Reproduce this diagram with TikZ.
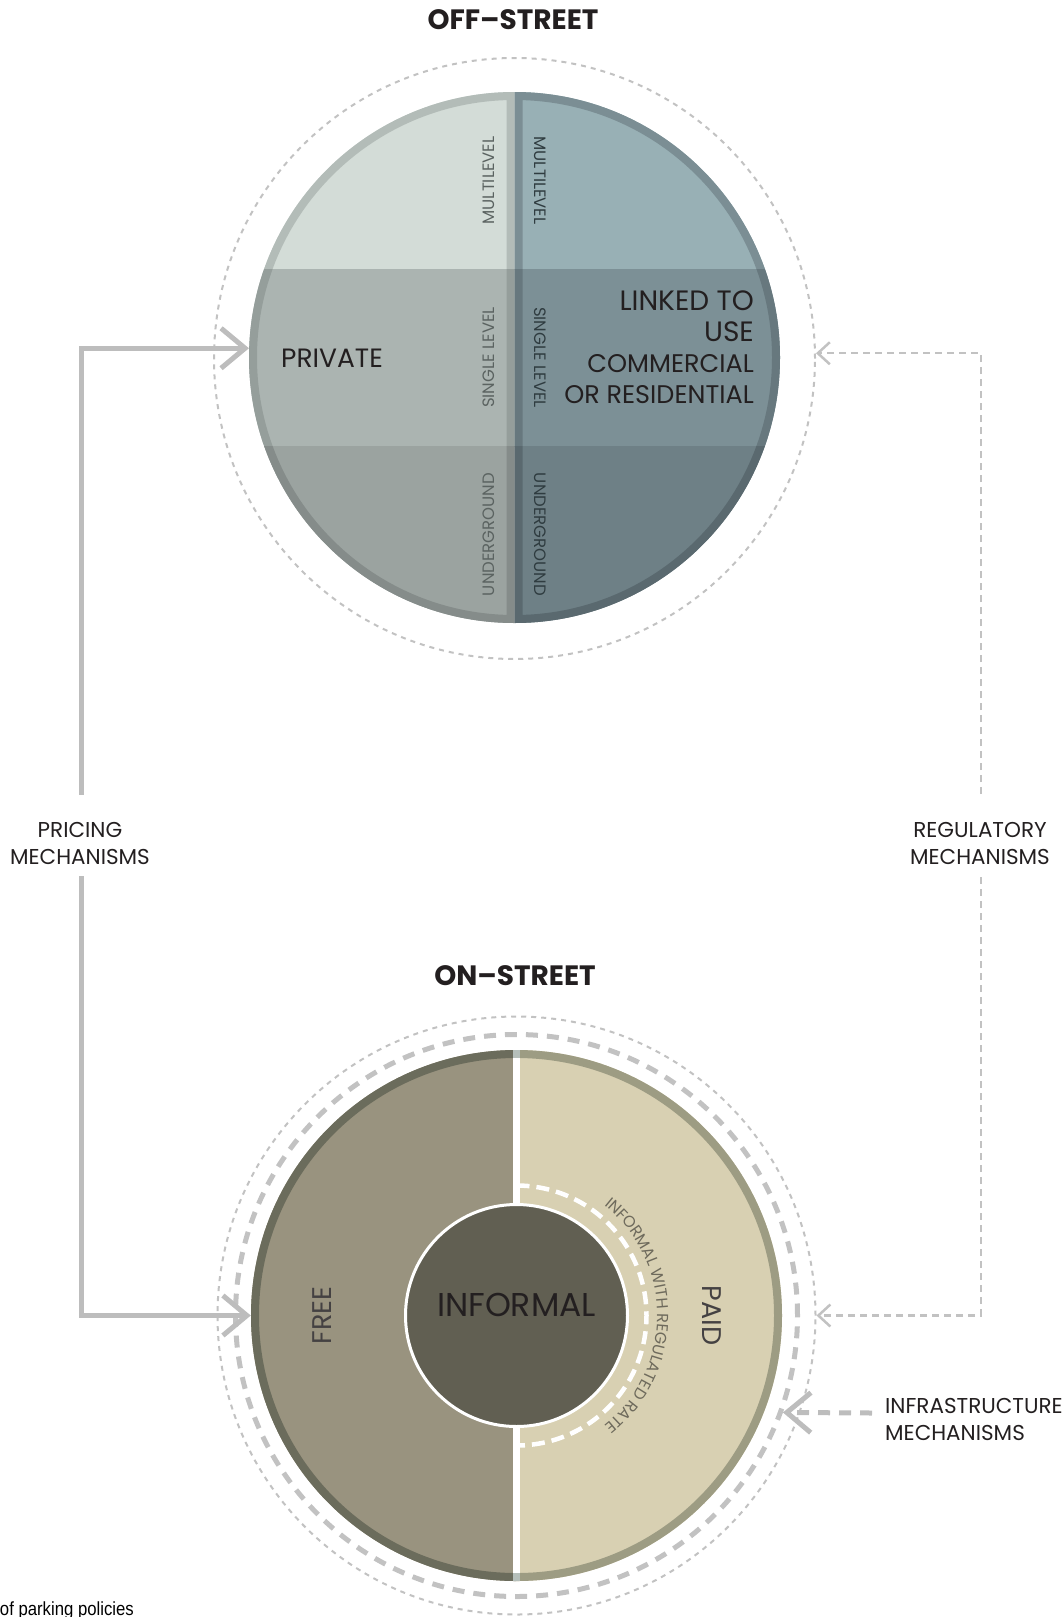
\documentclass[tikz,border=0pt]{standalone}
\usepackage{fontspec}
\setmainfont{Poppins}
\newfontfamily\capfont{Liberation Sans}
\usetikzlibrary{arrows.meta,decorations.text}

% off-street quarters (fill / border)
\definecolor{offTL}{HTML}{D3DCD7}
\definecolor{offTLb}{HTML}{B3BCB8}
\definecolor{offML}{HTML}{ABB4B1}
\definecolor{offMLb}{HTML}{959E9B}
\definecolor{offBL}{HTML}{9BA3A0}
\definecolor{offBLb}{HTML}{858C8A}
\definecolor{offTR}{HTML}{98B0B5}
\definecolor{offTRb}{HTML}{7B8E94}
\definecolor{offMR}{HTML}{7C9096}
\definecolor{offMRb}{HTML}{67787E}
\definecolor{offBR}{HTML}{6E8086}
\definecolor{offBRb}{HTML}{5A696F}
% on-street colours
\definecolor{freeFill}{HTML}{99937F}
\definecolor{freeLine}{HTML}{6B6C5C}
\definecolor{paidFill}{HTML}{D8D0B2}
\definecolor{paidLine}{HTML}{9D9C83}
\definecolor{informalFill}{HTML}{615F52}
\definecolor{dividerGray}{HTML}{B5BFBA}
% lines and text
\definecolor{ringGray}{HTML}{C2C2C2}
\definecolor{arrowGray}{HTML}{BDBDBD}
\definecolor{labelBlack}{HTML}{231F20}
\definecolor{levelLeft}{HTML}{5B6361}
\definecolor{levelRight}{HTML}{2F3C40}
\definecolor{informalText}{HTML}{6E6A5C}

\begin{document}
\begin{tikzpicture}[x=1pt,y=1pt,
    dotring/.style={draw=ringGray, line width=2pt, dash pattern=on 5pt off 5pt},
    dashring/.style={draw=ringGray, line width=5pt, dash pattern=on 12pt off 9pt},
    solidarrow/.style={draw=arrowGray, line width=5pt, -{Straight Barb[length=24pt,width=40pt]}},
    thinarrow/.style={draw=ringGray, line width=2.5pt, dash pattern=on 7pt off 5pt, -{Straight Barb[length=12pt,width=22pt]}},
    thickarrow/.style={draw=arrowGray, line width=5pt, dash pattern=on 12pt off 9pt, -{Straight Barb[length=24pt,width=40pt]}},
    mechlabel/.style={font=\fontsize{21.5}{27}\selectfont, text=labelBlack, inner sep=0pt},
    title/.style={font=\fontsize{28}{28}\selectfont\bfseries, text=labelBlack, inner sep=0pt},
    levelL/.style={rotate=90, font=\fontsize{16.5}{17}\selectfont, text=levelLeft, inner sep=0pt},
    levelR/.style={rotate=-90, font=\fontsize{16.5}{17}\selectfont, text=levelRight, inner sep=0pt},
    ring/.style={circle, inner sep=0pt, minimum size=#1}
  ]

  \useasboundingbox (0,0) rectangle (1063,-1617);

  % Off-street circle
  \def\cx{514.5}
  \def\cy{-357.5}
  \def\R{265.5}
  \node[title] (offtitle) at (513,-20) {OFF--STREET};
  \node[ring=601pt, dotring] (offring) at (\cx,-358.5) {};
  \foreach \yt/\yb/\qfl/\qbl/\qfr/\qbr in {-92/-269/offTL/offTLb/offTR/offTRb,
      -269/-446/offML/offMLb/offMR/offMRb, -446/-623/offBL/offBLb/offBR/offBRb} {
    \begin{scope}
      \clip (\cx-\R-10,\yt) rectangle (\cx,\yb);
      \clip (\cx,\cy) circle (\R);
      \fill[\qfl] (\cx-\R-10,\yt) rectangle (\cx,\yb);
      \draw[\qbl, line width=16pt] (\cx,\cy+\R) arc[start angle=90, end angle=270, radius=\R] -- cycle;
    \end{scope}
    \begin{scope}
      \clip (\cx,\yt) rectangle (\cx+\R+10,\yb);
      \clip (\cx,\cy) circle (\R);
      \fill[\qfr] (\cx,\yt) rectangle (\cx+\R+10,\yb);
      \draw[\qbr, line width=16pt] (\cx,\cy+\R) arc[start angle=90, end angle=-90, radius=\R] -- cycle;
    \end{scope}
  }
  \node[ring=531pt] (offst) at (\cx,\cy) {};

  % level labels
  \node[levelL] (multiL) at (489,-180.5) {MULTILEVEL};
  \node[levelR] (multiR) at (540,-180.5) {MULTILEVEL};
  \node[levelL] (singleL) at (489,-357.5) {SINGLE LEVEL};
  \node[levelR] (singleR) at (540,-357.5) {SINGLE LEVEL};
  \node[levelL] (underL) at (489,-534.5) {UNDERGROUND};
  \node[levelR] (underR) at (540,-534.5) {UNDERGROUND};

  \node[anchor=west, inner sep=0pt, text=labelBlack, font=\fontsize{26.5}{26.5}\selectfont] (private) at (281,-358.5) {PRIVATE};
  \node[anchor=east, inner sep=0pt, text=labelBlack, align=right, font=\fontsize{28}{31}\selectfont] (linked) at (754,-347) {LINKED TO\\USE\\{\fontsize{25.5}{29}\selectfont COMMERCIAL}\\{\fontsize{25.5}{28}\selectfont OR RESIDENTIAL}};

  % On-street circle
  \def\bx{516.5}
  \def\by{-1315.5}
  \node[title] (ontitle) at (515,-976) {ON--STREET};
  \node[ring=598pt, dotring] (onring) at (\bx,\by) {};
  \node[ring=562pt, dashring] (onbelt) at (\bx,\by) {};
  \fill[freeFill] (\bx,\by+\R) arc[start angle=90, end angle=270, radius=\R] -- cycle;
  \fill[paidFill] (\bx,\by+\R) arc[start angle=90, end angle=-90, radius=\R] -- cycle;
  \draw[freeLine, line width=8pt] (\bx,\by+\R-4) arc[start angle=90, end angle=270, radius=\R-4];
  \draw[paidLine, line width=8pt] (\bx,\by+\R-4) arc[start angle=90, end angle=-90, radius=\R-4];
  \draw[dividerGray, line width=6.5pt] (\bx,\by+\R) -- (\bx,\by-\R);
  \draw[white, line width=6.5pt] (\bx,\by+\R-8) -- (\bx,\by-\R+8);
  \node[ring=531pt] (onst) at (\bx,\by) {};

  % informal with regulated rate
  \draw[white, line width=4.5pt, dash pattern=on 13pt off 7pt] (\bx,\by+130) arc[start angle=90, end angle=-90, radius=130];
  \path[decorate, decoration={text along path, text align=center,
      text={|\fontsize{16}{16}\selectfont\color{informalText}|INFORMAL WITH REGULATED RATE}}]
    (\bx,\by) ++(89:141) arc[start angle=89, end angle=-89, radius=141];
  \node[ring=222pt, fill=informalFill, draw=white, line width=3pt] (informal) at (\bx,\by) {};
  \node[inner sep=0pt, text=labelBlack, font=\fontsize{33}{33}\selectfont] (informaltxt) at (\bx,-1305) {INFORMAL};
  \node[rotate=90, inner sep=0pt, text=labelBlack!85, font=\fontsize{27}{27}\selectfont] (free) at (322,\by) {FREE};
  \node[rotate=-90, inner sep=0pt, text=labelBlack!85, font=\fontsize{27}{27}\selectfont] (paid) at (712,\by) {PAID};

  % Mechanisms
  \node[mechlabel, align=center] (pricing) at (80,-843.5) {PRICING\\MECHANISMS};
  \node[mechlabel, align=center] (regulatory) at (980,-843) {REGULATORY\\MECHANISMS};
  \node[mechlabel, align=left, anchor=west] (infra) at (885,-1419) {INFRASTRUCTURE\\MECHANISMS};

  \draw[solidarrow] ([xshift=1pt,yshift=27.5pt]pricing.north) |- (offst.178.2);
  \draw[solidarrow] ([xshift=1pt,yshift=-11.5pt]pricing.south) |- (onst.west);
  \draw[thinarrow] ([xshift=1pt,yshift=27.5pt]regulatory.north) |- (offring.1.8);
  \draw[thinarrow] ([xshift=1pt,yshift=-13pt]regulatory.south) |- (onring.east);
  \coordinate (infrastart) at (872,-1413);
  \draw[thickarrow] (infrastart) -- (onbelt.-20.3);

  % caption fragment
  \node[anchor=base east, inner sep=0pt, xscale=0.88, font=\capfont\fontsize{19}{19}\selectfont] (caption) at (134,-1615) {of parking policies};

\end{tikzpicture}
\end{document}
